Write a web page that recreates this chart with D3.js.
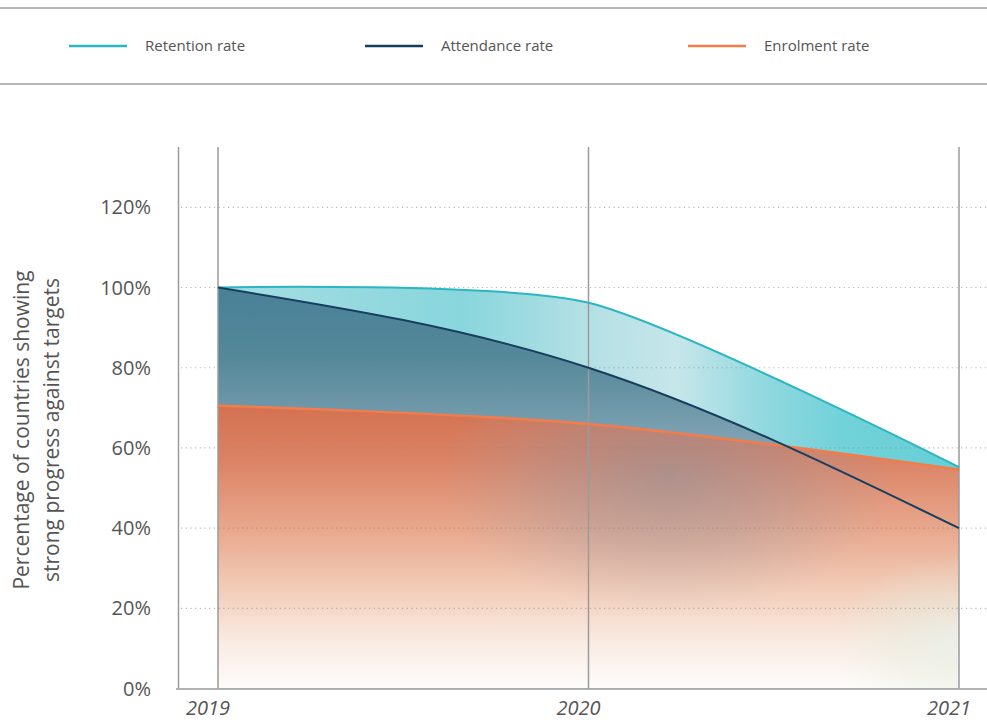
<!DOCTYPE html>
<html>
<head>
<meta charset="utf-8">
<script src="https://cdn.jsdelivr.net/npm/d3@7"></script>
<style>
  body { margin: 0; background: #fff; }
  svg { display: block; font-family: "Open Sans", sans-serif; }
</style>
</head>
<body>
<svg width="987" height="722"></svg>
<script>
var years = [2019, 2020, 2021];
var retention = [100, 96.2, 55.2];
var attendance = [100, 80, 40];
var enrolment = [70.5, 66, 54.6];
var yTicks = [0, 20, 40, 60, 80, 100, 120];

var legendItems = [
  {name: "Retention rate", color: "#2bb6c1", x: 69},
  {name: "Attendance rate", color: "#173e5f", x: 365},
  {name: "Enrolment rate", color: "#f47c4a", x: 688}
];

var svg = d3.select("svg"),
    width = 987,
    height = 722;

var x = d3.scaleLinear()
    .domain([2019, 2021])
    .range([218, 959]);

var y = d3.scaleLinear()
    .domain([0, 120])
    .range([688.6, 207.3]);

var defs = svg.append("defs");

function gradient(id, x1, y1, x2, y2, stops) {
  var g = defs.append("linearGradient")
      .attr("id", id)
      .attr("gradientUnits", "userSpaceOnUse")
      .attr("x1", x1).attr("y1", y1)
      .attr("x2", x2).attr("y2", y2);
  stops.forEach(function(s) {
    g.append("stop").attr("offset", s[0]).attr("stop-color", s[1])
        .attr("stop-opacity", s[2] == null ? 1 : s[2]);
  });
}

function radial(id, cx, cy, r, sy, stops) {
  var g = defs.append("radialGradient")
      .attr("id", id)
      .attr("gradientUnits", "userSpaceOnUse")
      .attr("cx", cx).attr("cy", cy).attr("r", r)
      .attr("gradientTransform", "translate(0," + cy * (1 - sy) + ") scale(1," + sy + ")");
  stops.forEach(function(s) {
    g.append("stop").attr("offset", s[0]).attr("stop-color", s[1])
        .attr("stop-opacity", s[2]);
  });
}

gradient("gRet", 218, 0, 959, 0, [
  [0, "#a6dee3"], [0.33, "#88d6dc"], [0.5, "#b4e0e5"], [0.62, "#c6e6ea"],
  [0.74, "#8fd8de"], [0.84, "#72d2d9"], [1, "#66cfd6"]
]);
gradient("gAtt", 0, 290, 0, 440, [
  [0, "#4a8198"], [0.45, "#548899"], [1, "#7fa2b3"]
]);
gradient("gEnr", 0, 400, 0, 688, [
  [0, "#d2704f"], [0.2, "#db8163"], [0.45, "#e8a88d"], [0.65, "#f2cbb7"],
  [0.84, "#f9ebe3"], [1, "#fdfcfb"]
]);
radial("gMauve", 670, 475, 230, 0.6, [
  [0, "#7d96a9", 0.5], [0.5, "#8a9aab", 0.3], [1, "#9aa6b4", 0]
]);
radial("gTeal", 955, 640, 120, 0.7, [
  [0, "#e6f1ec", 0.7], [0.5, "#e4ecdc", 0.4], [1, "#e4ecdc", 0]
]);

var curves = {
  retention: d3.curveCardinal.tension(0.3),
  attendance: d3.curveMonotoneX,
  enrolment: d3.curveCardinal
};

function area(values, curve) {
  return d3.area()
      .x(function(d, i) { return x(years[i]); })
      .y0(y(0))
      .y1(function(d) { return y(d); })
      .curve(curve)(values);
}

function line(values, curve) {
  return d3.line()
      .x(function(d, i) { return x(years[i]); })
      .y(function(d) { return y(d); })
      .curve(curve)(values);
}

// legend frame
svg.append("line").attr("x1", 0).attr("x2", width).attr("y1", 8).attr("y2", 8)
    .attr("stroke", "#6a6a6a").attr("stroke-width", 1);
svg.append("line").attr("x1", 0).attr("x2", width).attr("y1", 84).attr("y2", 84)
    .attr("stroke", "#a0a0a0").attr("stroke-width", 1.5);

var legend = svg.selectAll(".legend").data(legendItems).enter().append("g")
    .attr("transform", function(d) { return "translate(" + d.x + ",46)"; });
legend.append("line").attr("x1", 0).attr("x2", 58)
    .attr("stroke", function(d) { return d.color; }).attr("stroke-width", 2.5);
legend.append("text").attr("x", 76).attr("dy", "0.35em")
    .attr("font-size", 15).attr("fill", "#555")
    .text(function(d) { return d.name; });

// areas
svg.append("path").attr("d", area(retention, curves.retention)).attr("fill", "url(#gRet)");
svg.append("path").attr("d", area(attendance, curves.attendance)).attr("fill", "url(#gAtt)");
var enrArea = area(enrolment, curves.enrolment);
defs.append("clipPath").attr("id", "clipEnr").append("path").attr("d", enrArea);
svg.append("path").attr("d", enrArea).attr("fill", "url(#gEnr)");
svg.append("rect").attr("clip-path", "url(#clipEnr)")
    .attr("x", 0).attr("y", 0).attr("width", width).attr("height", height)
    .attr("fill", "url(#gMauve)");
svg.append("rect").attr("clip-path", "url(#clipEnr)")
    .attr("x", 0).attr("y", 0).attr("width", width).attr("height", height)
    .attr("fill", "url(#gTeal)");

// grid
svg.selectAll(".hgrid").data(yTicks.slice(1)).enter().append("line")
    .attr("x1", 181).attr("x2", 987)
    .attr("y1", function(d) { return y(d); }).attr("y2", function(d) { return y(d); })
    .attr("stroke", "#8a8a8a").attr("stroke-opacity", 0.6)
    .attr("stroke-width", 1.2).attr("stroke-dasharray", "1.2,3.5");

svg.selectAll(".vgrid").data(years).enter().append("line")
    .attr("x1", function(d) { return x(d); }).attr("x2", function(d) { return x(d); })
    .attr("y1", 147).attr("y2", y(0))
    .attr("stroke", "#9a9a9a").attr("stroke-width", 1.5);

svg.append("line").attr("x1", 178.5).attr("x2", 178.5).attr("y1", 147).attr("y2", y(0))
    .attr("stroke", "#9a9a9a").attr("stroke-width", 1.5);
svg.append("line").attr("x1", 176).attr("x2", width).attr("y1", y(0) + 0.5).attr("y2", y(0) + 0.5)
    .attr("stroke", "#9a9a9a").attr("stroke-width", 1.5);

// lines
svg.append("path").attr("d", line(retention, curves.retention))
    .attr("fill", "none").attr("stroke", "#2bb6c1").attr("stroke-width", 2);
svg.append("path").attr("d", line(enrolment, curves.enrolment))
    .attr("fill", "none").attr("stroke", "#f47c4a").attr("stroke-width", 2.5);
svg.append("path").attr("d", line(attendance, curves.attendance))
    .attr("fill", "none").attr("stroke", "#173e5f").attr("stroke-width", 2);

// y labels
svg.selectAll(".ylab").data(yTicks).enter().append("text")
    .attr("x", 151).attr("y", function(d) { return y(d); }).attr("dy", "0.35em")
    .attr("text-anchor", "end").attr("font-size", 20).attr("fill", "#555")
    .text(function(d) { return d + "%"; });

// x labels
svg.selectAll(".xlab").data(years).enter().append("text")
    .attr("x", function(d) { return x(d) - 10; }).attr("y", 715)
    .attr("text-anchor", "middle").attr("font-size", 20).attr("font-style", "italic")
    .attr("fill", "#555")
    .text(function(d) { return d; });

// y title
var title = svg.append("text")
    .attr("transform", "translate(0,430) rotate(-90)")
    .attr("text-anchor", "middle").attr("font-size", 21).attr("fill", "#555");
title.append("tspan").attr("x", 0).attr("y", 29).text("Percentage of countries showing");
title.append("tspan").attr("x", 0).attr("y", 59).text("strong progress against targets");
</script>
</body>
</html>
